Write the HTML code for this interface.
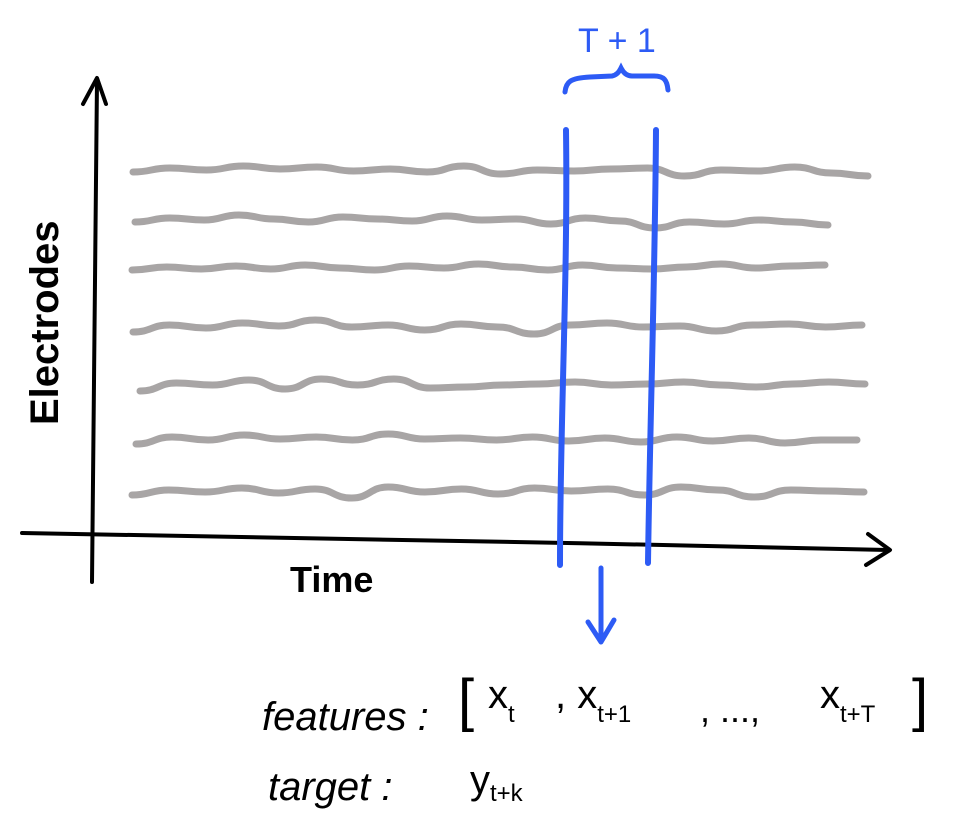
<!DOCTYPE html>
<html><head><meta charset="utf-8"><style>
html,body{margin:0;padding:0;background:#fff;}
svg{display:block;}
text{font-family:"Liberation Sans",sans-serif;}
</style></head><body>
<svg id="chart" width="956" height="836" viewBox="0 0 956 836" xmlns="http://www.w3.org/2000/svg">
<g id="signals"></g>
<path d="M92 582 C94 420 95 250 97 80" stroke="#000" stroke-width="4" fill="none" stroke-linecap="round"/>
<path d="M83 104 L97 78 L106 104" stroke="#000" stroke-width="4" fill="none" stroke-linecap="round" stroke-linejoin="round"/>
<path d="M22 533 C300 536 600 544 888 550" stroke="#000" stroke-width="4" fill="none" stroke-linecap="round"/>
<path d="M868 534 L890 550 L866 565" stroke="#000" stroke-width="4" fill="none" stroke-linecap="round" stroke-linejoin="round"/>
<path d="M566 130 C568 280 560 420 560 565" stroke="#2d5bf5" stroke-width="6" fill="none" stroke-linecap="round"/>
<path d="M656 130 C655 280 650 420 648 563" stroke="#2d5bf5" stroke-width="6" fill="none" stroke-linecap="round"/>
<path d="M565 92 C566 82 570 78 590 77 L612 76 C618 75 620 70 621 68 C623 72 626 76 632 76 L654 76 C664 76 667 80 668 90" stroke="#2d5bf5" stroke-width="5" fill="none" stroke-linecap="round"/>
<text x="578" y="52" font-size="34" fill="#2d5bf5">T + 1</text>
<path d="M601 568 L601 640 M588 622 L601 642 L614 620" stroke="#2d5bf5" stroke-width="5" fill="none" stroke-linecap="round" stroke-linejoin="round"/>
<text transform="translate(58,425) rotate(-90)" font-size="40" font-weight="bold" fill="#000">Electrodes</text>
<text x="290" y="592" font-size="36" font-weight="bold" fill="#000">Time</text>
<text x="262" y="730" font-size="40" font-style="italic" fill="#000">features :</text>
<text x="458" y="720" font-size="58" fill="#000">[</text>
<text x="488" y="708" font-size="40" fill="#000">x<tspan font-size="24" dy="14">t</tspan></text>
<text x="555" y="708" font-size="40" fill="#000">, x<tspan font-size="24" dy="14">t+1</tspan></text>
<text x="700" y="722" font-size="36" fill="#000">, ..., </text>
<text x="820" y="708" font-size="40" fill="#000">x<tspan font-size="24" dy="14">t+T</tspan></text>
<text x="912" y="720" font-size="58" fill="#000">]</text>
<text x="268" y="800" font-size="40" font-style="italic" fill="#000">target :</text>
<text x="470" y="793" font-size="40" fill="#000">y<tspan font-size="24" dy="8">t+k</tspan></text>
</svg>
<script>
const baselines=[172,222,270,328,385,441,492];
const wiggles=[
[0,-4,-2,-6,-3,-5,-1,-3,0,-6,2,-2,-1,-3,-4,4,-2,-1,-5,1,4],
[0,-4,-2,-7,-3,0,-5,-3,-1,-6,-2,-3,2,-4,-1,6,0,2,-2,0,3],
[0,-3,-1,-4,-1,-5,-2,0,-4,-2,-6,-3,0,-5,-2,-1,-3,-6,-2,-4,-5],
[4,-3,0,-5,-2,-8,-1,-3,2,-4,-1,6,-3,-5,-1,-2,3,-3,-4,-1,-3],
[6,-2,0,-5,4,-6,0,-6,3,2,0,-1,-3,0,-1,-3,0,2,-1,-3,-1],
[3,-4,-1,-6,-2,-4,-1,-7,-2,-3,-1,-4,0,-3,1,-4,0,-3,2,-1,-1],
[3,-2,0,-4,1,-3,6,-5,0,-3,2,-4,-1,-3,3,-5,-2,5,-2,-1,0]
];
const xStart=[133,135,132,133,140,136,132];
const xEnd=[868,828,825,862,865,857,864];
const g=document.getElementById('signals');
wiggles.forEach((w,i)=>{
  const n=w.length;
  const xs=k=>xStart[i]+(xEnd[i]-xStart[i])*k/(n-1);
  const ys=v=>baselines[i]+v;
  let d='M'+xs(0)+' '+ys(w[0]);
  for(let k=1;k<n;k++){
    const mx=(xs(k-1)+xs(k))/2;
    d+=' C'+mx+' '+ys(w[k-1])+' '+mx+' '+ys(w[k])+' '+xs(k)+' '+ys(w[k]);
  }
  const p=document.createElementNS('http://www.w3.org/2000/svg','path');
  p.setAttribute('d',d);
  p.setAttribute('stroke','#a8a5a5');
  p.setAttribute('stroke-width','7');
  p.setAttribute('fill','none');
  p.setAttribute('stroke-linecap','round');
  
  
  g.appendChild(p);
});
</script>
</body></html>
